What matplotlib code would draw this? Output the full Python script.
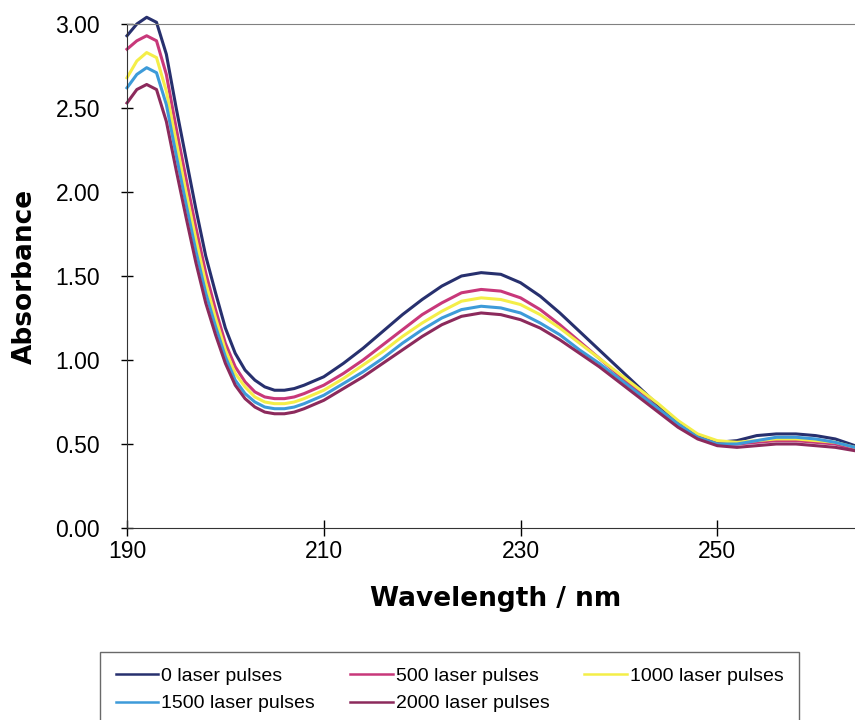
import matplotlib
matplotlib.use("Agg")
import matplotlib.pyplot as plt

wavelength = [190, 191, 192, 193, 194, 195, 196, 197, 198, 199, 200, 201, 202, 203, 204,
              205, 206, 207, 208, 210, 212, 214, 216, 218, 220, 222, 224, 226, 228, 230,
              232, 234, 236, 238, 240, 242, 244, 246, 248, 250, 252, 254, 256, 258, 260,
              262, 264, 265]

pulses_0 = [2.93, 3.00, 3.04, 3.01, 2.82, 2.50, 2.20, 1.90, 1.62, 1.40, 1.19, 1.04, 0.94, 0.88, 0.84,
            0.82, 0.82, 0.83, 0.85, 0.90, 0.98, 1.07, 1.17, 1.27, 1.36, 1.44, 1.50, 1.52, 1.51, 1.46,
            1.38, 1.28, 1.17, 1.06, 0.95, 0.84, 0.73, 0.63, 0.55, 0.51, 0.52, 0.55, 0.56, 0.56, 0.55,
            0.53, 0.49, 0.46]
pulses_500 = [2.85, 2.90, 2.93, 2.90, 2.70, 2.38, 2.08, 1.79, 1.52, 1.30, 1.10, 0.96, 0.87, 0.81, 0.78,
              0.77, 0.77, 0.78, 0.80, 0.85, 0.92, 1.00, 1.09, 1.18, 1.27, 1.34, 1.40, 1.42, 1.41, 1.37,
              1.30, 1.21, 1.11, 1.01, 0.91, 0.81, 0.71, 0.61, 0.54, 0.50, 0.50, 0.51, 0.52, 0.52, 0.51,
              0.50, 0.47, 0.45]
pulses_1000 = [2.68, 2.78, 2.83, 2.80, 2.60, 2.30, 2.00, 1.72, 1.46, 1.25, 1.06, 0.92, 0.84, 0.78, 0.75,
               0.74, 0.74, 0.75, 0.77, 0.82, 0.89, 0.97, 1.05, 1.14, 1.22, 1.29, 1.35, 1.37, 1.36, 1.33,
               1.27, 1.19, 1.10, 1.01, 0.92, 0.83, 0.74, 0.64, 0.56, 0.52, 0.51, 0.52, 0.53, 0.53, 0.52,
               0.51, 0.48, 0.46]
pulses_1500 = [2.62, 2.70, 2.74, 2.71, 2.52, 2.22, 1.93, 1.65, 1.40, 1.20, 1.02, 0.88, 0.80, 0.75, 0.72,
               0.71, 0.71, 0.72, 0.74, 0.79, 0.86, 0.93, 1.01, 1.10, 1.18, 1.25, 1.30, 1.32, 1.31, 1.28,
               1.22, 1.15, 1.06, 0.98, 0.89, 0.80, 0.71, 0.62, 0.54, 0.50, 0.50, 0.52, 0.54, 0.54, 0.53,
               0.51, 0.48, 0.45]
pulses_2000 = [2.53, 2.61, 2.64, 2.61, 2.42, 2.13, 1.85, 1.58, 1.34, 1.15, 0.98, 0.85, 0.77, 0.72, 0.69,
               0.68, 0.68, 0.69, 0.71, 0.76, 0.83, 0.90, 0.98, 1.06, 1.14, 1.21, 1.26, 1.28, 1.27, 1.24,
               1.19, 1.12, 1.04, 0.96, 0.87, 0.78, 0.69, 0.60, 0.53, 0.49, 0.48, 0.49, 0.50, 0.50, 0.49,
               0.48, 0.46, 0.44]

series = [
    ("0 laser pulses", pulses_0, "#27306e"),
    ("500 laser pulses", pulses_500, "#c8387a"),
    ("1000 laser pulses", pulses_1000, "#f4ee48"),
    ("1500 laser pulses", pulses_1500, "#3d9bd9"),
    ("2000 laser pulses", pulses_2000, "#8c2a5c"),
]

fig = plt.figure(figsize=(8.55, 7.2), dpi=100)
ax = fig.add_axes([127 / 855, 1 - 528 / 720, 1 - 127 / 855, (528 - 24) / 720])

handles = []
for label, vals, col in series:
    h, = ax.plot(wavelength, vals, color=col, linewidth=2.2, label=label, clip_on=False)
    handles.append(h)

ax.set_xlim(190, 264)
ax.set_ylim(0, 3)
ax.set_xticks([190, 210, 230, 250])
ax.set_yticks([0, 0.5, 1.0, 1.5, 2.0, 2.5, 3.0])
ax.set_yticklabels([f"{v:.2f}" for v in ax.get_yticks()])

for lab in ax.get_xticklabels() + ax.get_yticklabels():
    lab.set_fontfamily("Liberation Sans")
    lab.set_fontsize(16.5)
ax.tick_params(axis="y", direction="inout", length=9, width=1, pad=15)
ax.tick_params(axis="x", direction="inout", length=12, width=1, pad=3)

ax.spines["right"].set_visible(False)
ax.spines["top"].set_color("#808080")
ax.spines["left"].set_color("#333333")
ax.spines["bottom"].set_color("#333333")

ax.set_xlabel("Wavelength / nm", fontsize=19, fontweight="bold", family="DejaVu Sans")
ax.set_ylabel("Absorbance", fontsize=19, fontweight="bold", family="DejaVu Sans")
ax.xaxis.set_label_coords(0.507, -0.115)
ax.yaxis.set_label_coords(-0.122, 0.5)

# row-wise order like the original legend
order = [0, 3, 1, 4, 2]
leg = fig.legend([handles[i] for i in order], [series[i][0] for i in order],
                 loc="upper left", bbox_to_anchor=(100 / 855, 1 - 652 / 720), ncol=3,
                 prop={"family": "Liberation Sans", "size": 14}, frameon=True, fancybox=False,
                 handlelength=2.2, handletextpad=0.15, columnspacing=1.8, borderpad=0.8,
                 labelspacing=0.5, borderaxespad=0)
leg.get_frame().set_edgecolor("#444444")
leg.get_frame().set_linewidth(1)
for line in leg.get_lines():
    line.set_linewidth(1.8)

fig.savefig("out.png", dpi=100)
